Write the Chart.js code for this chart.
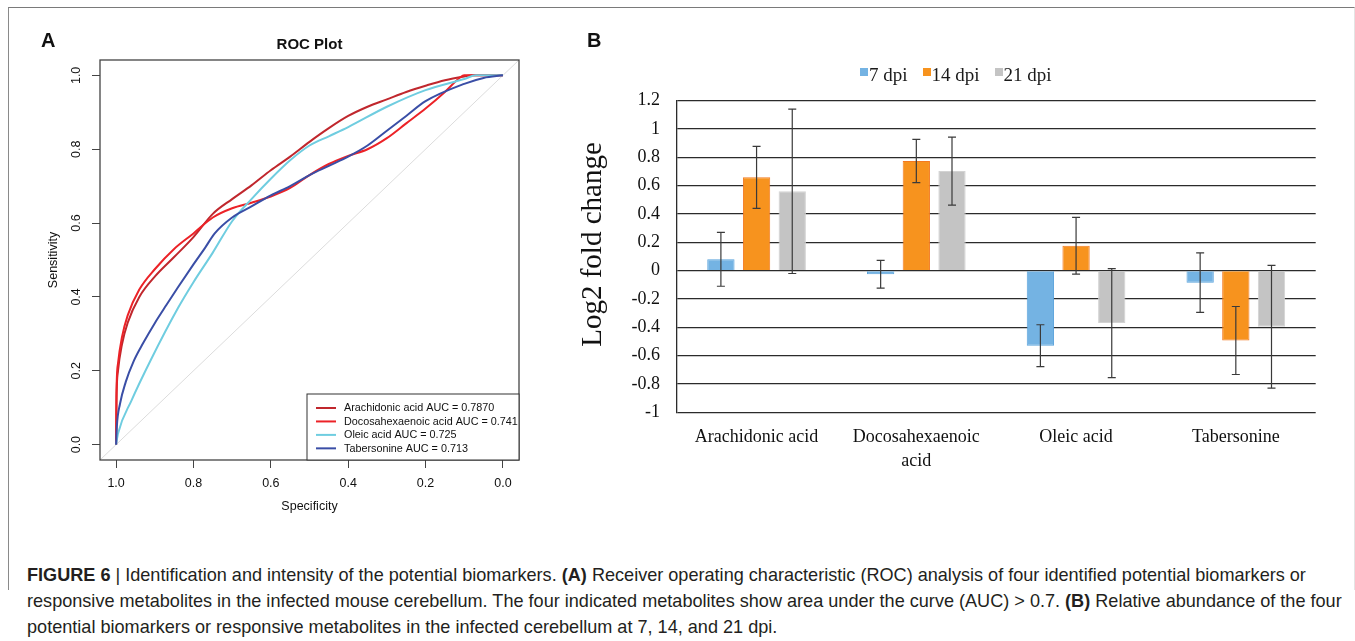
<!DOCTYPE html>
<html>
<head>
<meta charset="utf-8">
<script src="https://cdn.jsdelivr.net/npm/chart.js@4.4.1/dist/chart.umd.min.js"></script>
<style>
  html, body { margin: 0; padding: 0; background: #fff; }
  body { width: 1355px; height: 641px; position: relative; overflow: hidden; font-family: "Liberation Sans", Arial, sans-serif; }
  #frame { position: absolute; left: 8px; top: 7px; width: 1347px; height: 583px; box-sizing: border-box;
           border-top: 1.5px solid #7a7a7a; border-left: 1px solid #8a8a8a; border-right: 1px solid #e4e4e4; }
  #rocCanvas { position: absolute; left: 0; top: 0; }
  #barCanvas { position: absolute; left: 560px; top: 0; }
  .panel { position: absolute; font: bold 20px/20px "Liberation Sans", Arial, sans-serif; color: #111; }
  #legendB { position: absolute; left: 860px; top: 65px; display: flex; white-space: nowrap;
             font: 19px/19px "Liberation Serif", "Times New Roman", serif; color: #1a1a1a; }
  #legendB .item { display: flex; align-items: flex-start; margin-right: 15px; }
  #legendB .sw { width: 8px; height: 8px; margin-top: 3px; margin-right: 1px; }
  #caption { position: absolute; left: 27px; top: 562px; white-space: nowrap; color: #231f20;
             font: 18.1px/26px "Liberation Sans", Arial, sans-serif; }
</style>
</head>
<body>
<div id="frame"></div>
<canvas id="rocCanvas" width="560" height="545"></canvas>
<canvas id="barCanvas" width="795" height="545"></canvas>
<div class="panel" style="left:41px; top:30px;">A</div>
<div class="panel" style="left:587px; top:30px;">B</div>
<div id="legendB"></div>
<div id="caption"><b>FIGURE 6</b> | Identification and intensity of the potential biomarkers. <b>(A)</b> Receiver operating characteristic (ROC) analysis of four identified potential biomarkers or<br>responsive metabolites in the infected mouse cerebellum. The four indicated metabolites show area under the curve (AUC) &gt; 0.7. <b>(B)</b> Relative abundance of the four<br>potential biomarkers or responsive metabolites in the infected cerebellum at 7, 14, and 21 dpi.</div>

<script>
// ---- Panel A: ROC curves, [specificity, sensitivity] ----
const rocArachidonic = [[1.0, 0], [0.999, 0.12], [0.995, 0.2], [0.985, 0.27], [0.97, 0.33], [0.94, 0.4], [0.9, 0.455],
  [0.85, 0.508], [0.8, 0.562], [0.75, 0.625], [0.7, 0.665], [0.65, 0.702], [0.6, 0.743], [0.55, 0.78], [0.5, 0.82],
  [0.45, 0.857], [0.4, 0.89], [0.35, 0.915], [0.3, 0.935], [0.25, 0.955], [0.2, 0.972], [0.15, 0.987], [0.1, 0.997],
  [0.08, 1.0], [0.0, 1.0]];
const rocDocosahexaenoic = [[1.0, 0], [0.999, 0.14], [0.995, 0.22], [0.985, 0.29], [0.97, 0.35], [0.94, 0.42], [0.9, 0.475],
  [0.85, 0.53], [0.8, 0.572], [0.75, 0.615], [0.7, 0.64], [0.65, 0.655], [0.6, 0.672], [0.55, 0.695], [0.5, 0.73],
  [0.45, 0.76], [0.4, 0.782], [0.35, 0.8], [0.3, 0.83], [0.25, 0.87], [0.2, 0.91], [0.15, 0.955], [0.11, 0.995],
  [0.1, 1.0], [0.0, 1.0]];
const rocOleic = [[1.0, 0], [0.995, 0.03], [0.96, 0.12], [0.91, 0.23], [0.84, 0.37], [0.8, 0.44], [0.75, 0.52],
  [0.7, 0.605], [0.65, 0.665], [0.6, 0.72], [0.55, 0.77], [0.5, 0.81], [0.45, 0.835], [0.4, 0.86], [0.3, 0.915],
  [0.2, 0.96], [0.1, 0.99], [0.07, 1.0], [0.0, 1.0]];
const rocTabersonine = [[1.0, 0], [0.998, 0.05], [0.99, 0.11], [0.975, 0.17], [0.955, 0.225], [0.93, 0.275], [0.9, 0.329],
  [0.87, 0.378], [0.84, 0.426], [0.8, 0.488], [0.77, 0.533], [0.745, 0.572], [0.7, 0.615], [0.65, 0.645], [0.6, 0.675],
  [0.55, 0.7], [0.5, 0.73], [0.45, 0.755], [0.4, 0.78], [0.35, 0.81], [0.3, 0.85], [0.25, 0.89], [0.2, 0.93],
  [0.1, 0.977], [0.05, 0.993], [0.0, 1.0]];
const rocDiagonal = [[1.0416, -0.0416], [-0.0416, 1.0416]];
const rocLabels = ['Arachidonic acid AUC = 0.7870', 'Docosahexaenoic acid AUC = 0.741', 'Oleic acid AUC = 0.725', 'Tabersonine AUC = 0.713'];
const rocColors = ['#c0272d', '#ec2227', '#6fcde0', '#3a4ea6'];
const rocTicks = [0, 0.2, 0.4, 0.6, 0.8, 1.0];

// ---- Panel B: log2 fold change ----
const metabolites = ['Arachidonic acid', ['Docosahexaenoic', 'acid'], 'Oleic acid', 'Tabersonine'];
const seriesNames = ['7 dpi', '14 dpi', '21 dpi'];
const dpi7 = [0.08, -0.025, -0.53, -0.085];
const dpi7Err = [0.19, 0.098, 0.148, 0.21];
const dpi14 = [0.659, 0.774, 0.176, -0.493];
const dpi14Err = [0.219, 0.153, 0.2, 0.24];
const dpi21 = [0.56, 0.703, -0.37, -0.396];
const dpi21Err = [0.58, 0.24, 0.385, 0.433];
const seriesFill = ['#74b3e3', '#f7931e', '#c4c4c4'];
const seriesBorder = ['#5aa3dc', '#f37a21', '#d3d3d3'];
const yTitleB = 'Log2 fold change';

const SANS = '"Liberation Sans", Arial, sans-serif';
const SERIF = '"Liberation Serif", "Times New Roman", serif';

const toPts = arr => arr.map(p => ({x: p[0], y: p[1]}));

const rocDecor = {
  id: 'rocDecor',
  afterDraw(chart) {
    const {ctx, chartArea: a, scales: {y}} = chart;
    ctx.save();
    ctx.strokeStyle = '#444';
    ctx.lineWidth = 1.3;
    ctx.strokeRect(a.left, a.top, a.right - a.left, a.bottom - a.top);

    ctx.fillStyle = '#111';
    ctx.textAlign = 'center';
    ctx.textBaseline = 'middle';
    ctx.font = 'bold 15px ' + SANS;
    ctx.fillText('ROC Plot', (a.left + a.right) / 2, a.top - 15);

    ctx.font = '12.5px ' + SANS;
    rocTicks.forEach(v => {
      ctx.save();
      ctx.translate(a.left - 23, y.getPixelForValue(v));
      ctx.rotate(-Math.PI / 2);
      ctx.fillText(v.toFixed(1), 0, 0);
      ctx.restore();
    });

    // legend box, bottom right
    const bw = 212, bh = 66;
    const bx = a.right - bw, by = a.bottom - bh;
    ctx.fillStyle = '#fff';
    ctx.fillRect(bx, by, bw, bh);
    ctx.strokeStyle = '#333';
    ctx.lineWidth = 1;
    ctx.strokeRect(bx, by, bw, bh);
    ctx.font = '10.8px ' + SANS;
    ctx.textAlign = 'left';
    rocLabels.forEach((lab, i) => {
      const ly = by + 14 + i * 13.45;
      ctx.strokeStyle = rocColors[i];
      ctx.lineWidth = 2;
      ctx.beginPath();
      ctx.moveTo(bx + 9, ly);
      ctx.lineTo(bx + 29, ly);
      ctx.stroke();
      ctx.fillStyle = '#111';
      ctx.fillText(lab, bx + 37, ly + 0.5);
    });
    ctx.restore();
  }
};

const rocSeries = [rocArachidonic, rocDocosahexaenoic, rocOleic, rocTabersonine];

new Chart(document.getElementById('rocCanvas'), {
  type: 'scatter',
  data: {
    datasets: [
      {data: toPts(rocDiagonal), showLine: true, borderColor: '#dcdcdc', borderWidth: 1, pointRadius: 0, order: 10}
    ].concat(rocSeries.map((s, i) => ({
      label: rocLabels[i], data: toPts(s), showLine: true, borderColor: rocColors[i], borderWidth: 2,
      pointRadius: 0, cubicInterpolationMode: 'monotone', order: 4 - i
    })))
  },
  options: {
    responsive: false, animation: false, devicePixelRatio: 1,
    layout: {padding: {left: 0, right: 41, top: 60, bottom: 0}},
    plugins: {legend: {display: false}, tooltip: {enabled: false}},
    scales: {
      x: {
        type: 'linear', reverse: true, min: -0.0416, max: 1.0416,
        ticks: {stepSize: 0.2, includeBounds: false, padding: 8.3, color: '#111', font: {family: SANS, size: 12.5},
                callback: v => v.toFixed(1)},
        grid: {drawOnChartArea: false, tickLength: 8, color: '#444', tickColor: '#444'},
        border: {display: false},
        title: {display: true, text: 'Specificity', color: '#111', font: {family: SANS, size: 12.5}, padding: {bottom: 30.5}},
        afterFit: s => { s.height = 85; }
      },
      y: {
        min: -0.0416, max: 1.0416,
        ticks: {stepSize: 0.2, includeBounds: false, display: false},
        grid: {drawOnChartArea: false, tickLength: 8, color: '#444', tickColor: '#444'},
        border: {display: false},
        title: {display: true, text: 'Sensitivity', color: '#111', font: {family: SANS, size: 12.5}, padding: {top: 46.5}},
        afterFit: s => { s.width = 100; }
      }
    }
  },
  plugins: [rocDecor]
});

// ---- Panel B chart ----
const errorBars = {
  id: 'errorBars',
  afterDatasetsDraw(chart) {
    const {ctx, chartArea: a, scales: {y}} = chart;
    ctx.save();
    ctx.strokeStyle = '#3a3a3a';
    ctx.lineWidth = 1.2;
    chart.data.datasets.forEach((ds, i) => {
      chart.getDatasetMeta(i).data.forEach((bar, j) => {
        const top = y.getPixelForValue(ds.data[j] + ds.errors[j]);
        const bot = y.getPixelForValue(ds.data[j] - ds.errors[j]);
        ctx.beginPath();
        ctx.moveTo(bar.x, top); ctx.lineTo(bar.x, bot);
        ctx.moveTo(bar.x - 4, top); ctx.lineTo(bar.x + 4, top);
        ctx.moveTo(bar.x - 4, bot); ctx.lineTo(bar.x + 4, bot);
        ctx.stroke();
      });
    });
    // rotated y-axis title, sitting a little above the axis centre as in the original
    ctx.fillStyle = '#111';
    ctx.font = '29px ' + SERIF;
    ctx.textAlign = 'center';
    ctx.textBaseline = 'middle';
    ctx.translate(33, (a.top + a.bottom) / 2 - 12);
    ctx.rotate(-Math.PI / 2);
    ctx.fillText(yTitleB, 0, 0);
    ctx.restore();
  }
};

const barValues = [dpi7, dpi14, dpi21];
const barErrors = [dpi7Err, dpi14Err, dpi21Err];

new Chart(document.getElementById('barCanvas'), {
  type: 'bar',
  data: {
    labels: metabolites,
    datasets: seriesNames.map((name, i) => ({
      label: name, data: barValues[i], errors: barErrors[i],
      backgroundColor: seriesFill[i], borderColor: seriesBorder[i], borderWidth: 1
    }))
  },
  options: {
    responsive: false, animation: false, devicePixelRatio: 1,
    datasets: {bar: {categoryPercentage: 0.67, barPercentage: 0.765}},
    layout: {padding: {left: 0, right: 39.3, top: 100.7, bottom: 0}},
    plugins: {legend: {display: false}, tooltip: {enabled: false}},
    scales: {
      x: {
        grid: {display: false, drawTicks: false},
        border: {display: false},
        ticks: {color: '#111', font: {family: SERIF, size: 18, lineHeight: 1.33}, padding: 13, maxRotation: 0, autoSkip: false},
        afterFit: s => { s.height = 132.7; }
      },
      y: {
        min: -1, max: 1.2,
        ticks: {stepSize: 0.2, color: '#111', font: {family: SERIF, size: 18}, padding: 16.7,
                callback: v => String(Math.round(v * 10) / 10)},
        grid: {color: '#2b2b2b', lineWidth: 1.3, drawTicks: false},
        border: {display: true, color: '#2b2b2b', width: 1.3},
        afterFit: s => { s.width = 116.7; }
      }
    }
  },
  plugins: [errorBars]
});

// HTML legend for panel B
const legendB = document.getElementById('legendB');
seriesNames.forEach((name, i) => {
  const item = document.createElement('div');
  item.className = 'item';
  const sw = document.createElement('div');
  sw.className = 'sw';
  sw.style.background = seriesFill[i];
  const txt = document.createElement('span');
  txt.textContent = name;
  item.appendChild(sw);
  item.appendChild(txt);
  legendB.appendChild(item);
});
</script>
</body>
</html>
